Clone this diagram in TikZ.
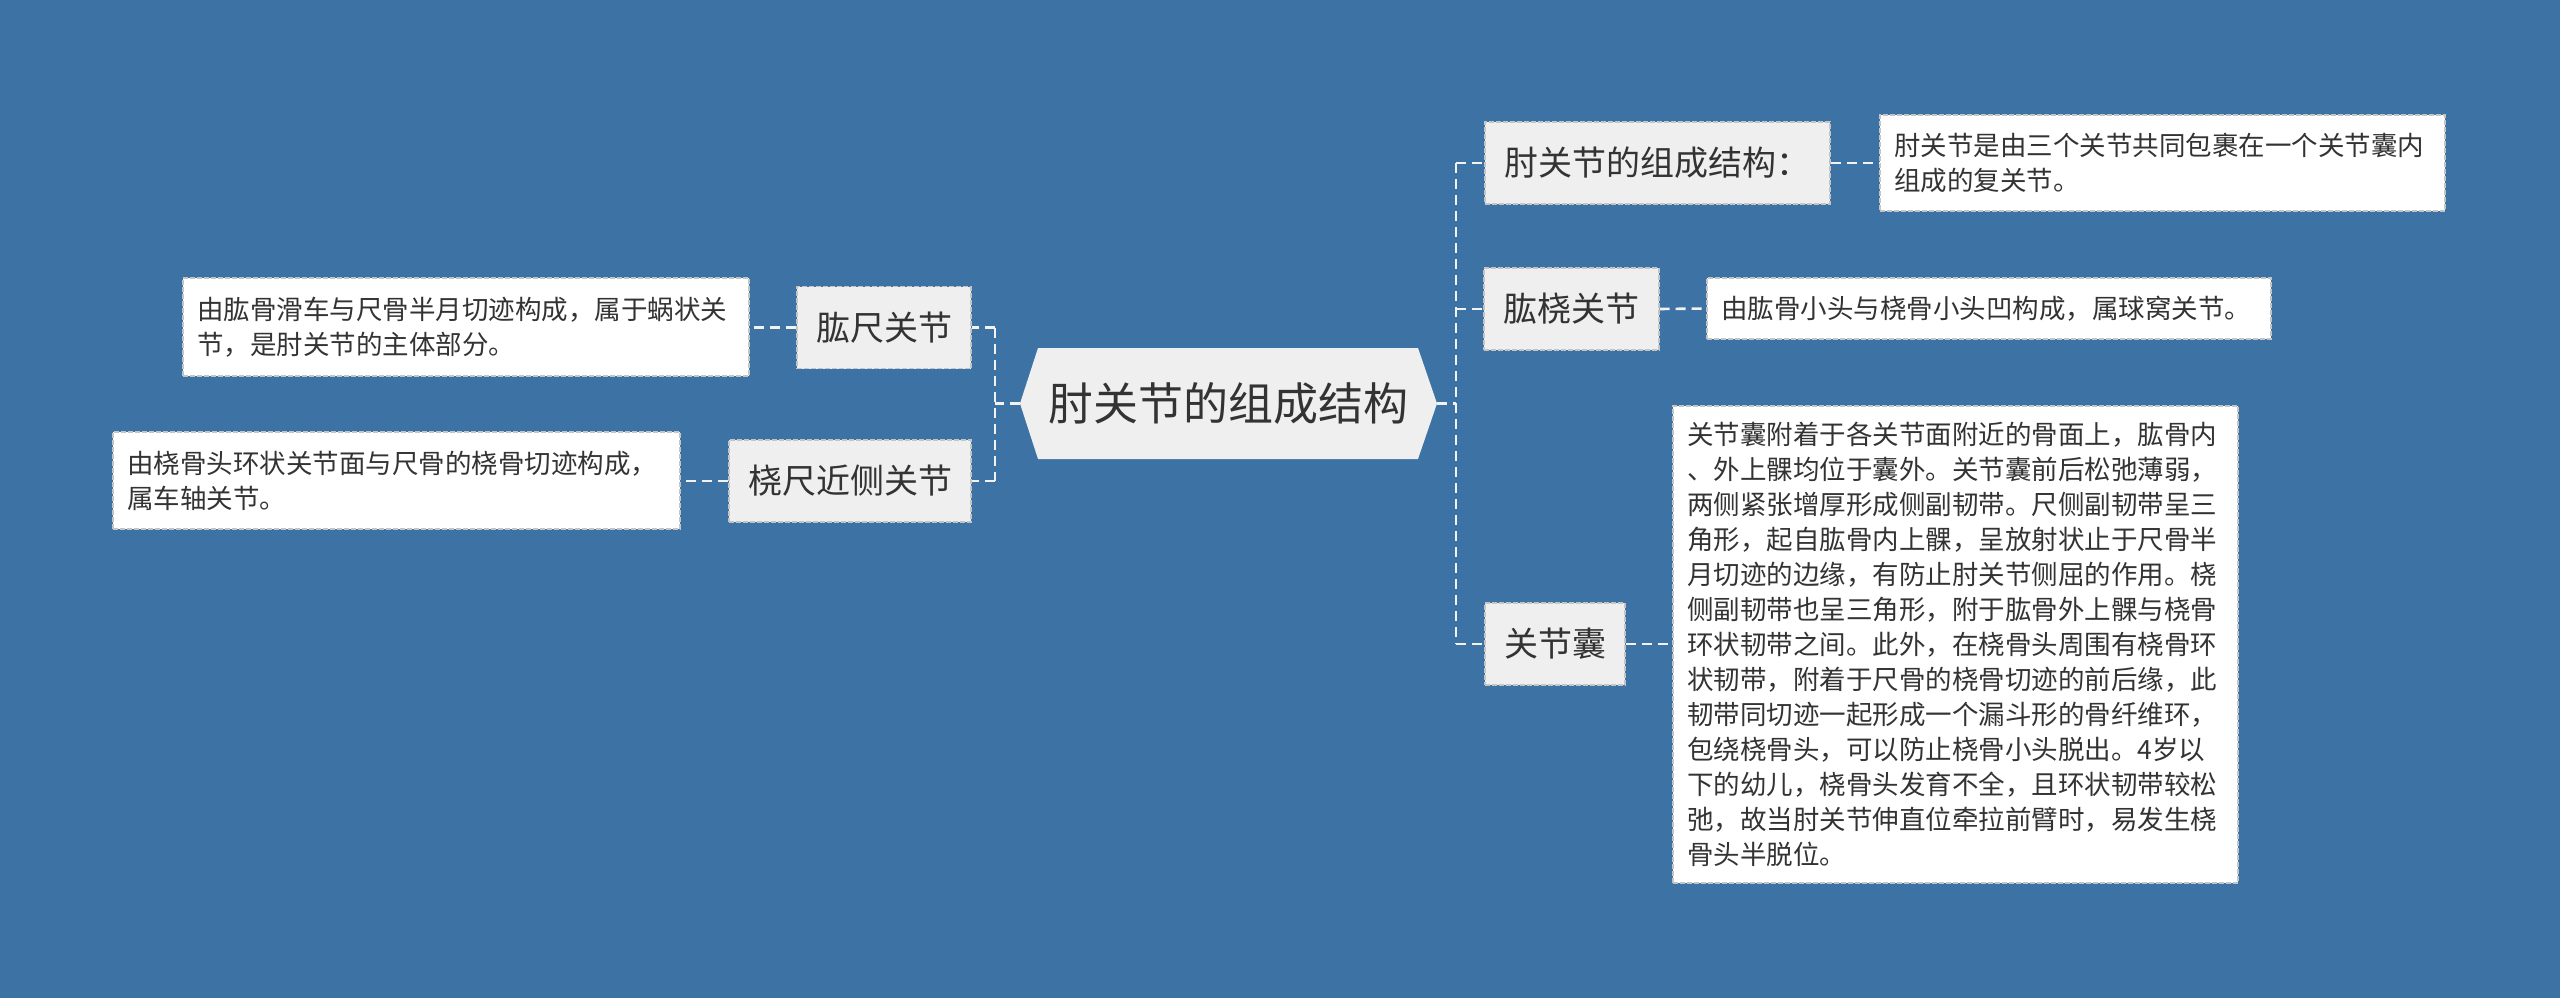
\documentclass[tikz,border=0pt]{standalone}
\usepackage{fontspec}
\setmainfont{Noto Sans CJK SC}
\definecolor{bgblue}{HTML}{3D72A5}
\definecolor{nodegray}{HTML}{EFEFEF}
\definecolor{txt}{HTML}{333333}
\definecolor{bord}{HTML}{C4C4C4}
\definecolor{conn}{HTML}{F2F2F2}
\begin{document}
\begin{tikzpicture}[x=1pt,y=-1pt,
  conline/.style={draw=conn,line width=2.6pt,dash pattern=on 10pt off 6pt},
  labelbox/.style={draw=bord,fill=nodegray,line width=1.4pt,dash pattern=on 5pt off 2pt,
    text=txt,font=\fontsize{34}{40}\selectfont,inner sep=0pt,minimum height=82pt},
  textbox/.style={draw=bord,fill=white,line width=1.4pt,dash pattern=on 5pt off 2pt,
    text=txt,font=\fontsize{26.5}{35}\selectfont,align=left,inner xsep=14pt,inner ysep=0pt},
  rootnode/.style={text=txt,font=\fontsize{45}{50}\selectfont,inner sep=0pt,
    minimum width=417pt,minimum height=111pt}]
\fill[bgblue] (0,0) rectangle (2560,998);
\useasboundingbox (0,0) rectangle (2560,998);
% central node
\fill[nodegray] (1020,403.5) -- (1038,348) -- (1418,348) -- (1437,403.5) -- (1418,459) -- (1038,459) -- cycle;
\node[rootnode] (root) at (1228.5,403.5) {肘关节的组成结构};
% right side
\node[labelbox,minimum width=345pt] (r1) at (1657.5,163) {肘关节的组成结构：};
\node[textbox,text width=537pt,minimum height=96pt] (t1) at (2162.5,163)
  {肘关节是由三个关节共同包裹在一个关节囊内\\组成的复关节。};
\node[labelbox,minimum width=175pt] (r2) at (1571.5,309) {肱桡关节};
\node[textbox,text width=536pt,minimum height=61pt] (t2) at (1989,308.5)
  {由肱骨小头与桡骨小头凹构成，属球窝关节。};
\node[labelbox,minimum width=140pt] (r3) at (1555,644) {关节囊};
\node[textbox,text width=537pt,minimum height=477pt] (t3) at (1955.5,644.5)
  {关节囊附着于各关节面附近的骨面上，肱骨内\\
   、外上髁均位于囊外。关节囊前后松弛薄弱，\\
   两侧紧张增厚形成侧副韧带。尺侧副韧带呈三\\
   角形，起自肱骨内上髁，呈放射状止于尺骨半\\
   月切迹的边缘，有防止肘关节侧屈的作用。桡\\
   侧副韧带也呈三角形，附于肱骨外上髁与桡骨\\
   环状韧带之间。此外，在桡骨头周围有桡骨环\\
   状韧带，附着于尺骨的桡骨切迹的前后缘，此\\
   韧带同切迹一起形成一个漏斗形的骨纤维环，\\
   包绕桡骨头，可以防止桡骨小头脱出。4岁以\\
   下的幼儿，桡骨头发育不全，且环状韧带较松\\
   弛，故当肘关节伸直位牵拉前臂时，易发生桡\\
   骨头半脱位。};
% left side
\node[labelbox,minimum width=174pt] (l1) at (884,327.5) {肱尺关节};
\node[textbox,text width=538pt,minimum height=98pt] (lt1) at (466,327)
  {由肱骨滑车与尺骨半月切迹构成，属于蜗状关\\节，是肘关节的主体部分。};
\node[labelbox,minimum width=242pt] (l2) at (850,481) {桡尺近侧关节};
\node[textbox,text width=539pt,minimum height=97pt] (lt2) at (396.5,480.5)
  {由桡骨头环状关节面与尺骨的桡骨切迹构成，\\属车轴关节。};
% bus coordinates
\coordinate (rbm) at (1456,403.5);
\coordinate (rb1) at (1456,163);
\coordinate (rb2) at (1456,309);
\coordinate (rb3) at (1456,644);
\coordinate (lbm) at (995,403.5);
\coordinate (lb1) at (995,327.5);
\coordinate (lb2) at (995,481);
% connectors
\draw[conline] (root.east) -- (rbm);
\draw[conline] (rb1) -- (rb3);
\draw[conline] (rb1) -- (r1.west);
\draw[conline] (rb2) -- (r2.west);
\draw[conline] (rb3) -- (r3.west);
\draw[conline] (r1.east) -- (t1.west);
\draw[conline] (r2.east) -- (t2.west);
\draw[conline] (r3.east) -- (t3.west |- r3.east);
\draw[conline] (root.west) -- (lbm);
\draw[conline] (lb1) -- (lb2);
\draw[conline] (lb1) -- (l1.east);
\draw[conline] (lb2) -- (l2.east);
\draw[conline] (l1.west) -- (lt1.east |- l1.west);
\draw[conline] (l2.west) -- (lt2.east |- l2.west);
\end{tikzpicture}
\end{document}
